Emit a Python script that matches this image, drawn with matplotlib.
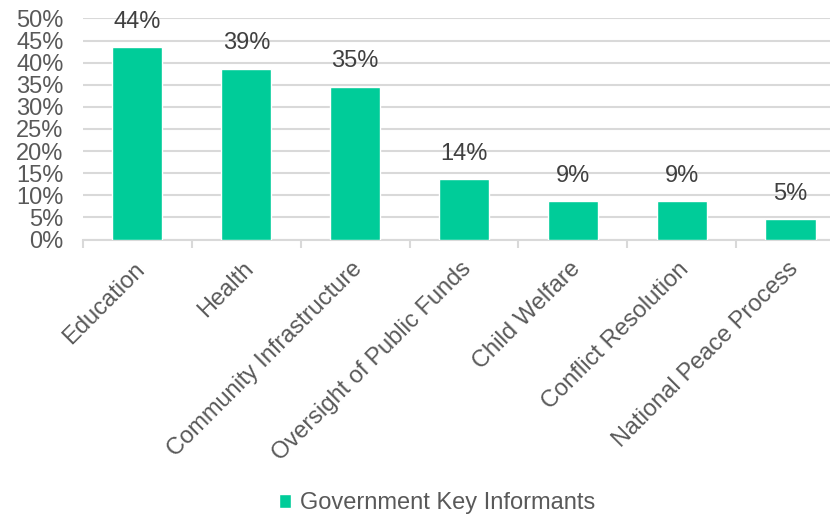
import matplotlib
matplotlib.use('Agg')
import matplotlib.pyplot as plt
import matplotlib.transforms as mtransforms
import numpy as np

# data
categories = ['Education', 'Health', 'Community Infrastructure', 'Oversight of Public Funds',
              'Child Welfare', 'Conflict Resolution', 'National Peace Process']
values = [43.5, 38.6, 34.5, 13.6, 8.6, 8.6, 4.6]
value_labels = ['44%', '39%', '35%', '14%', '9%', '9%', '5%']
series_name = 'Government Key Informants'
y_ticks = [0, 5, 10, 15, 20, 25, 30, 35, 40, 45, 50]

bar_color = '#00CC99'
label_color = '#404040'
tick_color = '#595959'
grid_color = '#D9D9D9'
fs = 17

plt.rcParams['font.family'] = ['Liberation Sans', 'DejaVu Sans']

fig = plt.figure(figsize=(8.3, 5.19), dpi=100)
ax = fig.add_axes([0.1, 0.5385, 0.918, 0.426])

x = np.arange(len(categories))
bars = ax.bar(x, values, width=0.46, color=bar_color, edgecolor='white',
              linewidth=1.0, zorder=3, label=series_name)

for b, lab in zip(bars, value_labels):
    ax.text(b.get_x() + b.get_width() / 2, b.get_height() + 3.3, lab,
            ha='center', va='bottom', fontsize=fs, color=label_color, zorder=4)

ax.set_xlim(-0.5, len(categories) - 0.5)
ax.set_ylim(0, 50)
ax.set_yticks(y_ticks)
ax.set_yticklabels([f'{t}%' for t in y_ticks], fontsize=fs, color=tick_color)
ax.tick_params(axis='y', length=0, pad=14)

ax.set_xticks(x)
ax.set_xticklabels(categories, rotation=45, ha='right', va='center',
                   rotation_mode='anchor', fontsize=fs, color=tick_color)
ax.tick_params(axis='x', length=0, pad=19)
shift = mtransforms.ScaledTranslation(3 / 72, 0, fig.dpi_scale_trans)
for lab in ax.get_xticklabels():
    lab.set_transform(lab.get_transform() + shift)
# tick marks between categories
ax.set_xticks(np.arange(-0.5, len(categories)), minor=True)
ax.tick_params(axis='x', which='minor', length=6, color=grid_color, width=1.5)

ax.yaxis.grid(True, color=grid_color, linewidth=1.5, zorder=0)
ax.set_axisbelow(True)
for s in ['top', 'right', 'left']:
    ax.spines[s].set_visible(False)
ax.spines['bottom'].set_color(grid_color)
ax.spines['bottom'].set_linewidth(1.5)

fig.legend(handles=[bars], labels=[series_name], loc='center',
           bbox_to_anchor=(0.527, 0.03), frameon=False, fontsize=fs,
           handlelength=0.5, handleheight=0.5, handletextpad=0.4,
           labelcolor=tick_color)

fig.savefig('out.png', dpi=100)
